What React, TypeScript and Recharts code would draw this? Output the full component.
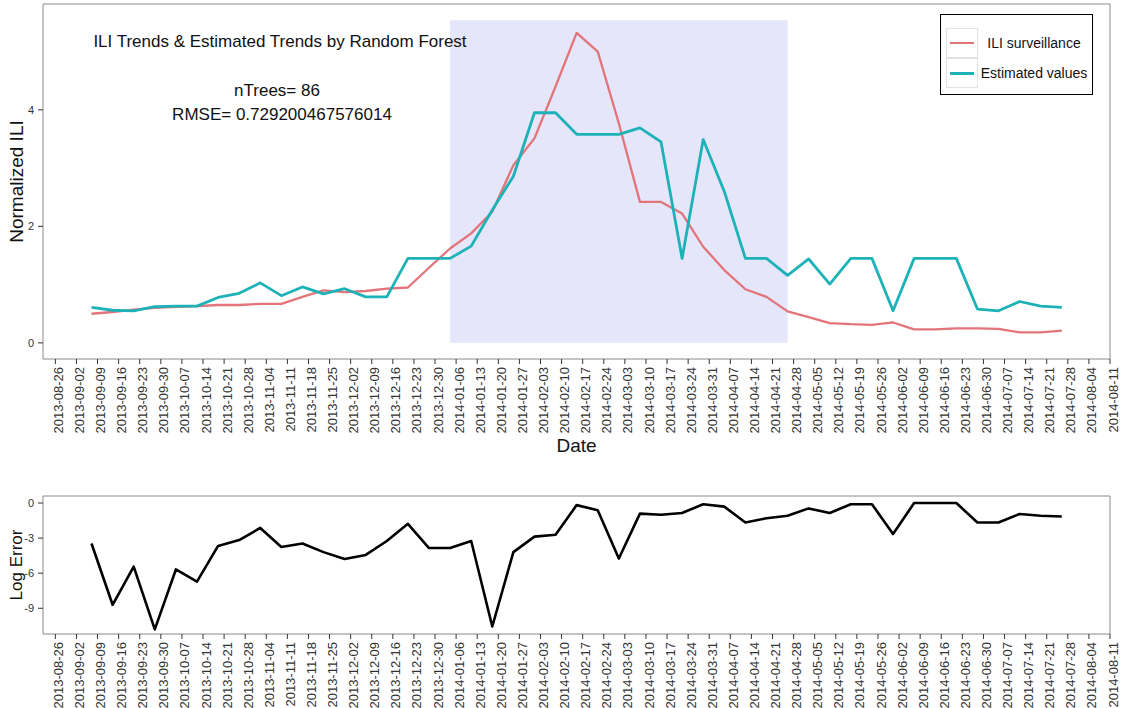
import { LineChart, Line, XAxis, YAxis, ReferenceArea, Legend } from "recharts";

const FONT = '"Liberation Sans", Arial, Helvetica, sans-serif';

// weekly tick labels on both x axes (Mondays)
const tickDates = [
  "2013-08-26", "2013-09-02", "2013-09-09", "2013-09-16", "2013-09-23", "2013-09-30",
  "2013-10-07", "2013-10-14", "2013-10-21", "2013-10-28", "2013-11-04", "2013-11-11",
  "2013-11-18", "2013-11-25", "2013-12-02", "2013-12-09", "2013-12-16", "2013-12-23",
  "2013-12-30", "2014-01-06", "2014-01-13", "2014-01-20", "2014-01-27", "2014-02-03",
  "2014-02-10", "2014-02-17", "2014-02-24", "2014-03-03", "2014-03-10", "2014-03-17",
  "2014-03-24", "2014-03-31", "2014-04-07", "2014-04-14", "2014-04-21", "2014-04-28",
  "2014-05-05", "2014-05-12", "2014-05-19", "2014-05-26", "2014-06-02", "2014-06-09",
  "2014-06-16", "2014-06-23", "2014-06-30", "2014-07-07", "2014-07-14", "2014-07-21",
  "2014-07-28", "2014-08-04", "2014-08-11",
];

// week-ending dates of the observations
const weekDates = [
  "2013-09-07", "2013-09-14", "2013-09-21", "2013-09-28", "2013-10-05", "2013-10-12",
  "2013-10-19", "2013-10-26", "2013-11-02", "2013-11-09", "2013-11-16", "2013-11-23",
  "2013-11-30", "2013-12-07", "2013-12-14", "2013-12-21", "2013-12-28", "2014-01-04",
  "2014-01-11", "2014-01-18", "2014-01-25", "2014-02-01", "2014-02-08", "2014-02-15",
  "2014-02-22", "2014-03-01", "2014-03-08", "2014-03-15", "2014-03-22", "2014-03-29",
  "2014-04-05", "2014-04-12", "2014-04-19", "2014-04-26", "2014-05-03", "2014-05-10",
  "2014-05-17", "2014-05-24", "2014-05-31", "2014-06-07", "2014-06-14", "2014-06-21",
  "2014-06-28", "2014-07-05", "2014-07-12", "2014-07-19", "2014-07-26",
];

const iliValues = [
  0.5, 0.53, 0.57, 0.6, 0.62, 0.63, 0.65, 0.65, 0.67, 0.67, 0.79, 0.9,
  0.87, 0.89, 0.93, 0.95, 1.29, 1.62, 1.88, 2.25, 3.05, 3.51, 4.4, 5.32,
  5.0, 3.77, 2.42, 2.42, 2.22, 1.65, 1.25, 0.92, 0.79, 0.54, 0.44, 0.34,
  0.32, 0.31, 0.35, 0.23, 0.23, 0.25, 0.25, 0.24, 0.18, 0.18, 0.21,
];

const estValues = [
  0.61, 0.56, 0.55, 0.62, 0.63, 0.63, 0.78, 0.85, 1.03, 0.81, 0.96, 0.84,
  0.93, 0.79, 0.79, 1.45, 1.45, 1.45, 1.66, 2.28, 2.86, 3.95, 3.95, 3.58,
  3.58, 3.58, 3.69, 3.45, 1.45, 3.49, 2.6, 1.45, 1.45, 1.16, 1.44, 1.01,
  1.45, 1.45, 0.55, 1.45, 1.45, 1.45, 0.58, 0.55, 0.71, 0.63, 0.61,
];

const logErrors = [
  -3.46, -8.7, -5.44, -10.8, -5.68, -6.72, -3.67, -3.17, -2.13, -3.76, -3.46, -4.2,
  -4.79, -4.44, -3.25, -1.78, -3.85, -3.85, -3.25, -10.56, -4.2, -2.87, -2.72, -0.18,
  -0.61, -4.75, -0.91, -1.0, -0.85, -0.1, -0.31, -1.66, -1.3, -1.09, -0.46, -0.85,
  -0.1, -0.1, -2.65, 0, 0, 0, -1.66, -1.66, -0.94, -1.09, -1.15,
];

const seriesNames = ["ILI surveillance", "Estimated values"];
const topTicks = [0, 2, 4];
const bottomTicks = [0, -3, -6, -9];
const shadeFrom = "2014-01-04";
const shadeTo = "2014-04-26";
const shadeTop = 5.54;

const dayOf = (s: string) => (Date.parse(s) - Date.parse(tickDates[0])) / 86400000;
const tickDays = tickDates.map(dayOf);
const labelByDay = new Map(tickDays.map((d, i) => [d, tickDates[i]]));
const xDomain: [number, number] = [-4.1, tickDays[tickDays.length - 1]];
const topDomain: [number, number] = [-0.277, 5.817];
const bottomDomain: [number, number] = [-11.2, 0.6];

const topData = weekDates.map((w, i) => ({ d: dayOf(w), ili: iliValues[i], est: estValues[i] }));
const errData = weekDates.map((w, i) => ({ d: dayOf(w), err: logErrors[i] }));

function DateTick({ x, y, payload }: any) {
  return (
    <g transform={`translate(${x},${y})`}>
      <text transform="rotate(-90)" x={-1} y={3} dy="0.35em" textAnchor="end" fontSize={13} fill="#333">
        {labelByDay.get(payload.value)}
      </text>
    </g>
  );
}

function LegendBox({ payload }: any) {
  const items = [...(payload || [])].sort((a: any, b: any) => seriesNames.indexOf(a.value) - seriesNames.indexOf(b.value));
  return (
    <div
      style={{
        position: "relative", width: 153, height: 81, border: "1.5px solid #000",
        boxSizing: "border-box", background: "#fff", fontFamily: FONT, fontSize: 14, color: "#111",
      }}
    >
      {items.map((p: any, i: number) => (
        <div key={p.value} style={{ position: "absolute", left: 0, top: 12.8 + i * 30.5, width: "100%", height: 30 }}>
          <div style={{ position: "absolute", left: 5, top: 0, width: 32, height: 30, border: "1px solid #e2e2e2", boxSizing: "border-box" }} />
          <div style={{ position: "absolute", left: 9, top: 14, width: 24, height: 2.5, background: p.color }} />
          <div style={{ position: "absolute", left: 38, top: 7, width: 110, textAlign: "center", lineHeight: "16px", whiteSpace: "nowrap" }}>
            {p.value}
          </div>
        </div>
      ))}
    </div>
  );
}

export default function App() {
  return (
    <div style={{ position: "absolute", left: 0, top: 0, width: 1126, height: 708, background: "#fff", fontFamily: FONT }}>
      <div style={{ position: "absolute", left: 0, top: 0 }}>
        <LineChart width={1126} height={460} data={topData} margin={{ top: 4, right: 16, bottom: 6, left: 0 }} style={{ fontFamily: FONT }}>
          <XAxis
            type="number" dataKey="d" domain={xDomain} ticks={tickDays} interval={0} allowDataOverflow
            axisLine={false} tickSize={5} tickLine={{ stroke: "#333" }} tick={<DateTick />} height={95}
            label={{ value: "Date", position: "insideBottom", offset: 2, fontSize: 19, fill: "#111" }}
          />
          <YAxis
            type="number" domain={topDomain} ticks={topTicks} allowDataOverflow axisLine={false} width={43}
            tickSize={5} tickMargin={4} tick={{ fontSize: 11, fill: "#333" }} tickLine={{ stroke: "#333" }}
            label={{ value: "Normalized ILI", angle: -90, position: "insideLeft", offset: 16, style: { textAnchor: "middle", fontSize: 19, fill: "#111" } }}
          />
          <ReferenceArea x1={dayOf(shadeFrom)} x2={dayOf(shadeTo)} y1={0} y2={shadeTop} fill="#E6E6FA" fillOpacity={1} stroke="none" />
          <ReferenceArea x1={xDomain[0]} x2={xDomain[1]} y1={topDomain[0]} y2={topDomain[1]} fill="none" stroke="#8a8a8a" />
          <Line type="linear" dataKey="ili" name={seriesNames[0]} stroke="#E2747A" strokeWidth={2.3} strokeLinejoin="round" dot={false} isAnimationActive={false} legendType="line" />
          <Line type="linear" dataKey="est" name={seriesNames[1]} stroke="#1DB2B8" strokeWidth={2.8} strokeLinejoin="round" dot={false} isAnimationActive={false} legendType="line" />
          <Legend
            layout="vertical" align="center" verticalAlign="middle"
            wrapperStyle={{ left: 940, top: 14, width: 153, height: 81 }}
            content={(props: any) => <LegendBox {...props} />}
          />
        </LineChart>
        <svg width={1126} height={140} style={{ position: "absolute", left: 0, top: 0, pointerEvents: "none", fontFamily: FONT }}>
          <text x={280} y={47} textAnchor="middle" fontSize={17} fill="#111">ILI Trends &amp; Estimated Trends by Random Forest</text>
          <text x={277} y={96} textAnchor="middle" fontSize={17} fill="#111">nTrees= 86</text>
          <text x={282} y={120} textAnchor="middle" fontSize={17} fill="#111">RMSE= 0.729200467576014</text>
        </svg>
      </div>
      <div style={{ position: "absolute", left: 0, top: 480 }}>
        <LineChart width={1126} height={228} data={errData} margin={{ top: 16, right: 16, bottom: 4, left: 0 }} style={{ fontFamily: FONT }}>
          <XAxis
            type="number" dataKey="d" domain={xDomain} ticks={tickDays} interval={0} allowDataOverflow
            axisLine={false} tickSize={5} tickLine={{ stroke: "#333" }} tick={<DateTick />} height={70}
          />
          <YAxis
            type="number" domain={bottomDomain} ticks={bottomTicks} allowDataOverflow axisLine={false} width={43}
            tickSize={5} tickMargin={4} tick={{ fontSize: 11, fill: "#333" }} tickLine={{ stroke: "#333" }}
            label={{ value: "Log Error", angle: -90, position: "insideLeft", offset: 16, style: { textAnchor: "middle", fontSize: 17, fill: "#111" } }}
          />
          <ReferenceArea x1={xDomain[0]} x2={xDomain[1]} y1={bottomDomain[0]} y2={bottomDomain[1]} fill="none" stroke="#8a8a8a" />
          <Line type="linear" dataKey="err" stroke="#000" strokeWidth={2.6} strokeLinejoin="round" dot={false} isAnimationActive={false} />
        </LineChart>
      </div>
    </div>
  );
}
